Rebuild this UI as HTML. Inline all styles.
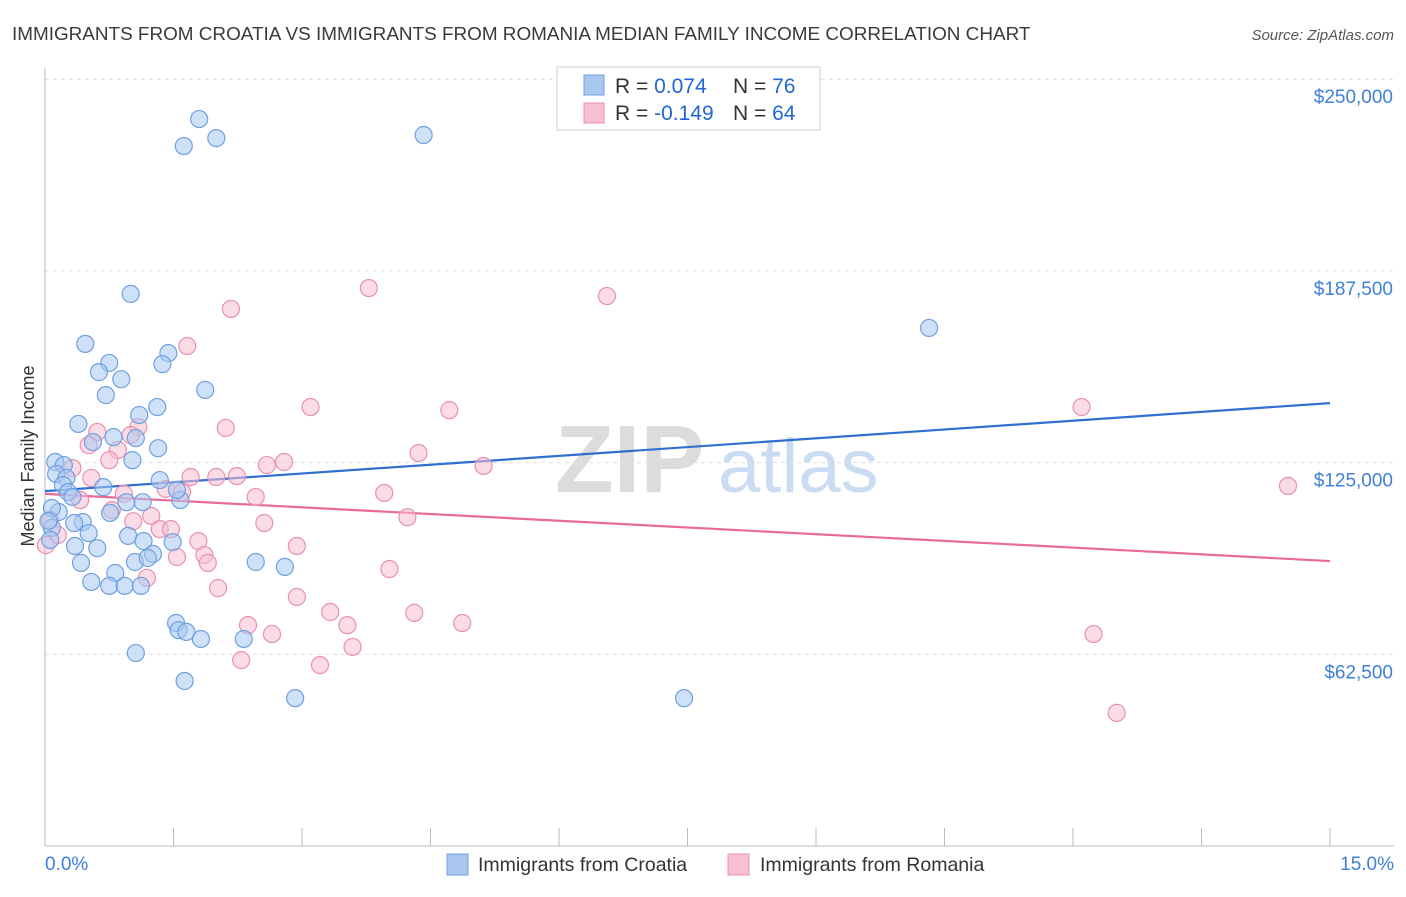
<!DOCTYPE html>
<html><head><meta charset="utf-8"><style>
body{margin:0;background:#fff;font-family:"Liberation Sans",sans-serif;}
svg text{font-family:"Liberation Sans",sans-serif;}
</style></head><body>
<svg id="chart" width="1406" height="892" xmlns="http://www.w3.org/2000/svg">
<text x="12" y="40" font-size="18.9" fill="#3a3a3a">IMMIGRANTS FROM CROATIA VS IMMIGRANTS FROM ROMANIA MEDIAN FAMILY INCOME CORRELATION CHART</text>
<text x="1394" y="40" font-size="15" fill="#555" text-anchor="end" font-style="italic">Source: ZipAtlas.com</text>
<text x="555" y="492" font-size="96" fill="#dcdcdc" font-family="Liberation Serif" font-weight="bold">ZIP</text>
<text x="718" y="492" font-size="76" fill="#c9dcf2">atlas</text>
<g id="grid"></g><g id="axes"></g><g id="lines"></g><g id="pts"></g>
<text x="34" y="456" font-size="18" fill="#333" text-anchor="middle" transform="rotate(-90 34 456)">Median Family Income</text>
<g>
<rect x="557" y="67" width="263" height="63" fill="#fff" stroke="#ccc"/>
<rect x="584" y="75" width="20" height="20" fill="#a8c8f0" stroke="#6fa0e0"/>
<rect x="584" y="103" width="20" height="20" fill="#f7bfd1" stroke="#e890b0"/>
<text x="615" y="93" font-size="21" fill="#333">R = <tspan fill="#1f66d6">0.074</tspan></text>
<text x="733" y="93" font-size="21" fill="#333">N = <tspan fill="#1f66d6">76</tspan></text>
<text x="615" y="120" font-size="21" fill="#333">R = <tspan fill="#1f66d6">-0.149</tspan></text>
<text x="733" y="120" font-size="21" fill="#333">N = <tspan fill="#1f66d6">64</tspan></text>
</g>
<g>
<rect x="447" y="854" width="21" height="21" fill="#a8c8f0" stroke="#6fa0e0"/>
<text x="478" y="871" font-size="19.5" fill="#333">Immigrants from Croatia</text>
<rect x="728" y="854" width="21" height="21" fill="#f7bfd1" stroke="#e890b0"/>
<text x="760" y="871" font-size="19.5" fill="#333">Immigrants from Romania</text>
</g>
<text x="45" y="870" font-size="19" fill="#3f7fd8">0.0%</text>
<text x="1394" y="870" font-size="19" fill="#3f7fd8" text-anchor="end">15.0%</text>
</svg>
<script>
const yTicks=[62500,125000,187500,250000];
const yTickLabels=["$62,500","$125,000","$187,500","$250,000"];
const croatiaX=[1.80,1.62,2.00,4.42,1.00,0.47,0.75,0.63,0.89,1.44,1.37,0.71,1.87,1.31,1.10,0.39,0.56,0.80,1.06,1.32,1.02,0.12,0.22,0.13,0.25,0.21,1.34,0.68,0.27,0.32,0.95,1.14,1.58,1.54,0.16,0.76,0.44,0.34,0.08,0.51,0.97,1.15,1.49,0.35,0.61,0.06,1.26,1.05,1.20,0.42,2.46,2.80,0.82,0.54,0.75,0.93,1.12,1.53,1.56,1.65,1.82,2.32,1.06,1.63,2.92,7.46,10.32,0.08,0.04];
const croatiaY=[237000,228200,230800,231800,180000,163700,157500,154500,152200,160700,157100,147000,148700,143100,140500,137600,131700,133300,133000,129700,125800,125200,124200,121300,120000,117700,119300,117000,115400,113800,112100,112100,112800,116100,108900,108600,105600,105300,103700,102000,101100,99400,99100,97800,97100,99800,95200,92600,93900,92300,92600,91000,89000,86100,84800,84800,84800,72700,70400,69800,67500,67500,62900,53800,48200,48200,168900,110200,106000];
const romaniaX=[3.78,6.56,2.17,1.66,3.10,4.72,12.10,2.11,0.61,1.09,0.51,0.85,1.00,4.36,0.75,0.32,2.59,2.79,5.12,0.54,1.70,2.00,2.24,14.51,1.41,1.60,0.92,3.96,2.46,0.41,0.78,1.24,4.23,1.03,2.56,1.34,1.47,0.15,1.79,2.94,1.86,1.54,1.90,4.02,1.19,2.02,2.94,3.33,4.31,3.53,2.37,4.87,2.65,12.24,3.59,2.29,3.21,12.51,0.01,0.06];
const romaniaY=[181900,179300,175100,163000,143100,142100,143100,136300,135000,136600,130700,129100,134000,128100,125800,123200,124200,125200,123900,120000,120300,120300,120600,117400,116400,115400,114800,115100,113800,112800,109500,107600,107200,105900,105300,103300,103300,101400,99400,97800,94900,94200,92300,90300,87400,84100,81200,76300,76000,72000,72000,72700,69100,69100,64900,60600,59000,43400,98100,106300];
const trendStartY=[115700,114800];
const trendEndY=[144400,92900];
const xMax=15;
const NS="http://www.w3.org/2000/svg";
function sx(v){return 45+v/xMax*1285;}
function sy(v){return 846-v/62500*191.7;}
function mk(tag,attrs,parent){const e=document.createElementNS(NS,tag);for(const k in attrs)e.setAttribute(k,attrs[k]);document.getElementById(parent).appendChild(e);return e;}
yTicks.forEach((t,i)=>{
 const g=mk('line',{x1:45,x2:1394,y1:sy(t),y2:sy(t),stroke:'#ddd','stroke-dasharray':'4,4'},'grid');
 
 
 const tx=mk('text',{x:1393,y:sy(t)+24,'font-size':19,fill:'#3f7fd8','text-anchor':'end'},'grid');
 tx.textContent=yTickLabels[i];
 
 
});
const ax=mk('line',{x1:45,x2:1394,y1:846,y2:846,stroke:'#bbb'},'axes');


const ay=mk('line',{x1:45,x2:45,y1:68,y2:846,stroke:'#bbb'},'axes');


for(let i=0;i<=10;i++){
 const t=mk('line',{x1:sx(i*1.5),x2:sx(i*1.5),y1:828,y2:846,stroke:'#bbb'},'axes');
 
 
}
function pts(X,Y,fill,stroke,name){
 X.forEach((x,i)=>{
  const c=mk('circle',{cx:sx(x),cy:sy(Y[i]),r:8.5,fill:fill,'fill-opacity':0.55,stroke:stroke,'stroke-width':1.2},'pts');
  
  
 });
}
pts(romaniaX,romaniaY,'#f7bfd1','#e890b0','romania-point');
pts(croatiaX,croatiaY,'#a8c8f0','#6fa0e0','croatia-point');
const cols=['#2f6fd0','#e8699a'];const names=['croatia-trend-line','romania-trend-line'];
[0,1].forEach(i=>{
 const l=mk('line',{x1:sx(0),x2:sx(xMax),y1:sy(trendStartY[i]),y2:sy(trendEndY[i]),stroke:cols[i],'stroke-width':2.2},'lines');
 
 
});
</script>
</body></html>
